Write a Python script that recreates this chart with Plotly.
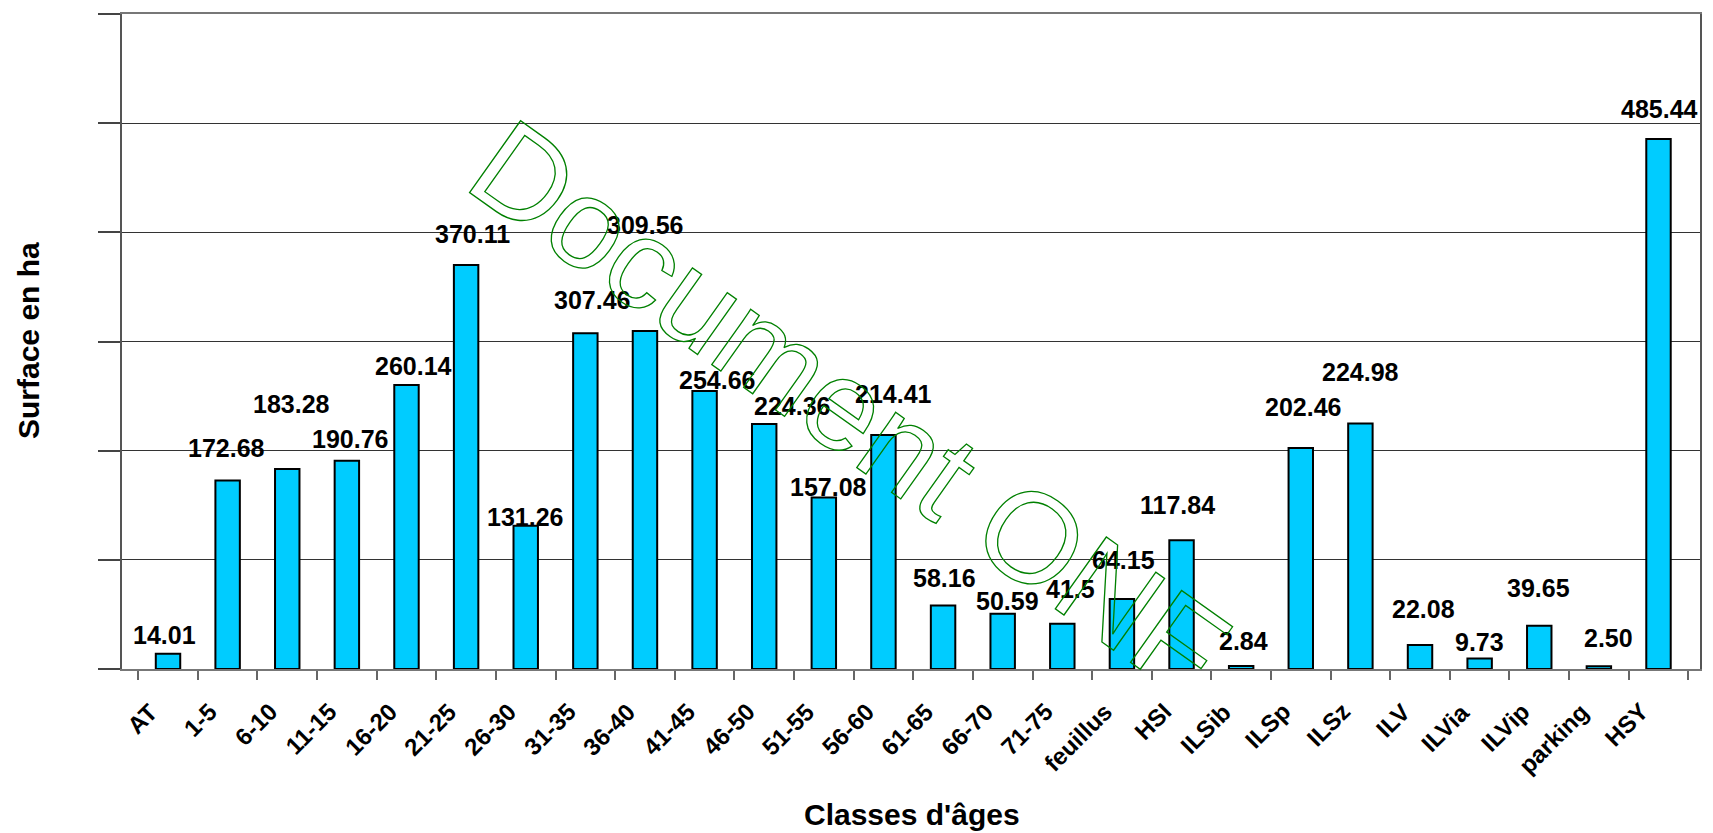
import plotly.graph_objects as go

categories = ["AT", "1-5", "6-10", "11-15", "16-20", "21-25", "26-30", "31-35", "36-40",
              "41-45", "46-50", "51-55", "56-60", "61-65", "66-70", "71-75", "feuillus",
              "HSI", "ILSib", "ILSp", "ILSz", "ILV", "ILVia", "ILVip", "parking", "HSY"]
surface_ha = [14.01, 172.68, 183.28, 190.76, 260.14, 370.11, 131.26, 307.46, 309.56,
              254.66, 224.36, 157.08, 214.41, 58.16, 50.59, 41.5, 64.15,
              117.84, 2.84, 202.46, 224.98, 22.08, 9.73, 39.65, 2.50, 485.44]
label_text = ["14.01", "172.68", "183.28", "190.76", "260.14", "370.11", "131.26", "307.46", "309.56",
              "254.66", "224.36", "157.08", "214.41", "58.16", "50.59", "41.5", "64.15",
              "117.84", "2.84", "202.46", "224.98", "22.08", "9.73", "39.65", "2.50", "485.44"]

# pixel offsets of each value label relative to the top of its bar (as placed in the original)
label_dx = [-4, -1, 4, 3, 7, 6, -1, 7, 0, 12, 28, 5, 10, 1, 5, 8, 2, -4, 2, 2, 0, 3, 0, -1, 10, 1]
label_dy = [19, 32, 65, 22, 19, 31, 9, 33, 106, 11, 18, 11, 41, 28, 13, 35, 39, 35, 25, 41, 51, 36, 16, 38, 28, 30]

FONT = "Liberation Sans, Arial, sans-serif"

fig = go.Figure()
fig.add_trace(go.Bar(
    x=categories, y=surface_ha,
    marker=dict(color="#00CCFF", line=dict(color="black", width=2)),
    hoverinfo="x+y", showlegend=False,
))

W, H = 1713, 833
ML, MR, MT, MB = 122, 13, 14, 164
pw, ph = W - ML - MR, H - MT - MB

def px(xp):
    return (xp - ML) / pw

def py(yp):
    return (H - MB - yp) / ph

annotations = []
# value labels
for c, v, t, dx, dy in zip(categories, surface_ha, label_text, label_dx, label_dy):
    annotations.append(dict(
        x=c, y=v, xref="x", yref="y", text=t, showarrow=False,
        xanchor="center", yanchor="middle", xshift=dx, yshift=dy,
        font=dict(family=FONT, size=25, color="black", weight="bold"),
    ))
# category labels (rotated 45°, end aligned just left of each category centre)
for c in categories:
    annotations.append(dict(
        x=c, y=py(698), xref="x", yref="paper", text=c, showarrow=False,
        xanchor="right", yanchor="top", xshift=-5, textangle=-45,
        borderpad=0, borderwidth=0,
        font=dict(family=FONT, size=24, color="black", weight="bold"),
    ))

# axis titles
annotations.append(dict(
    x=px(912), y=py(815), xref="paper", yref="paper", text="Classes d'âges",
    showarrow=False, xanchor="center", yanchor="middle",
    font=dict(family=FONT, size=30, color="black", weight="bold"),
))
annotations.append(dict(
    x=px(28), y=py(341), xref="paper", yref="paper", text="Surface en ha",
    showarrow=False, xanchor="center", yanchor="middle", textangle=-90,
    font=dict(family=FONT, size=30, color="black", weight="bold"),
))
# watermark
annotations.append(dict(
    x=px(849), y=py(407), xref="paper", yref="paper", text="Document ONF",
    showarrow=False, xanchor="center", yanchor="middle", textangle=35.4,
    font=dict(family=FONT, size=128, color="#008000"),
    name="watermark",
))

fig.update_layout(
    width=W, height=H,
    margin=dict(l=ML, r=MR, t=MT, b=MB, pad=0),
    paper_bgcolor="white", plot_bgcolor="white",
    bargap=0.59,
    annotations=annotations,
    xaxis=dict(
        type="category", showticklabels=False,
        ticks="outside", ticklen=9, tickcolor="#666", tickwidth=1.5,
        tickson="boundaries",
        showline=True, linecolor="#777", linewidth=2, mirror=True,
        showgrid=False, zeroline=False,
    ),
    yaxis=dict(
        range=[0, 600], dtick=100, showticklabels=False,
        ticks="outside", ticklen=22, tickcolor="#444", tickwidth=1.5,
        showgrid=True, gridcolor="#333", gridwidth=1,
        showline=True, linecolor="#555", linewidth=2, mirror=True,
        zeroline=False,
    ),
)

post = """
document.documentElement.style.margin = '0';
document.body.style.margin = '0';
document.body.style.padding = '0';
var gd = document.getElementById('{plot_id}');
function outlineWM(){
  var els = gd.querySelectorAll('.annotation-text');
  els.forEach(function(el){
    if (el.textContent.indexOf('Document ONF') >= 0) {
      el.style.fill = 'none';
      el.style.stroke = '#008000';
      el.style.strokeWidth = '1.3px';
    }
  });
}
outlineWM();
if (gd.on) { gd.on('plotly_afterplot', outlineWM); }
"""

fig.write_html("out.html", post_script=post, config={"displayModeBar": False})
